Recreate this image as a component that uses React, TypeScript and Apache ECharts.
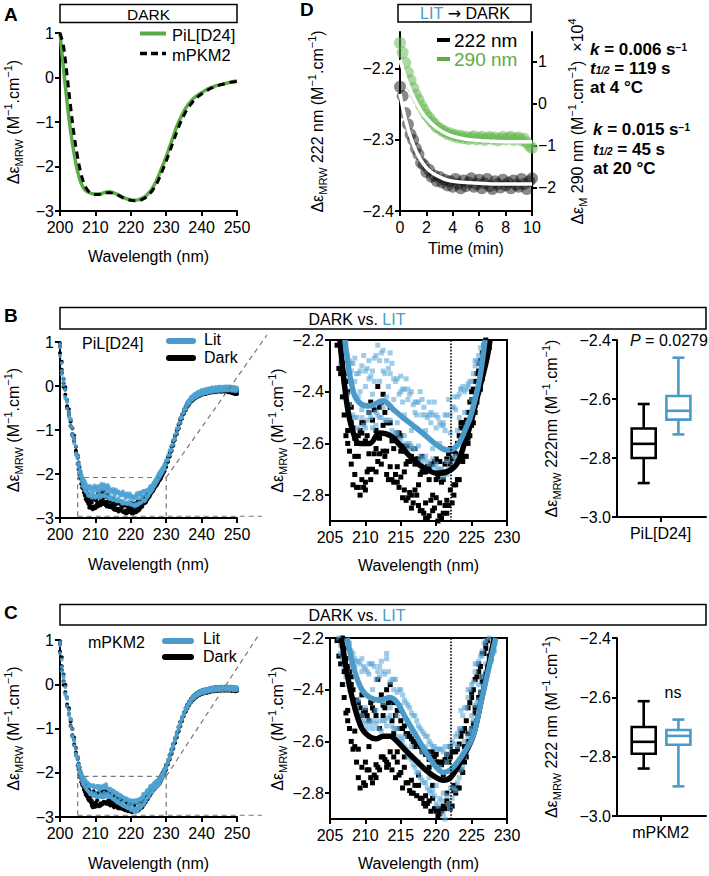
import React, { useEffect, useRef } from 'react';
import * as echarts from 'echarts';

const FONT = '"Liberation Sans", Arial, Helvetica, sans-serif';
const INK = '#000000';
const GREEN = '#5bab46';
const BLUE = '#4a9bc9';

// ---------------- Panel A ----------------
const A_WAVELENGTH = [200, 201, 202, 203, 204, 205, 206, 207, 208, 209, 210, 211, 212, 213, 214, 215, 216, 217, 218, 219, 220, 221, 222, 223, 224, 225, 226, 227, 228, 229, 230, 231, 232, 233, 234, 235, 236, 237, 238, 239, 240, 241, 242, 243, 244, 245, 246, 247, 248, 249, 250];
const A_PIL_D24 = [1.0, 0.2, -0.55, -1.2, -1.72, -2.12, -2.38, -2.52, -2.58, -2.61,
  -2.62, -2.62, -2.6, -2.58, -2.57, -2.59, -2.62, -2.66, -2.7, -2.73,
  -2.75, -2.76, -2.75, -2.72, -2.68, -2.6, -2.5, -2.36, -2.18, -1.98,
  -1.78, -1.55, -1.33, -1.1, -0.92, -0.76, -0.63, -0.53, -0.45, -0.39,
  -0.34, -0.29, -0.25, -0.22, -0.19, -0.17, -0.15, -0.13, -0.11, -0.09, -0.08];
const A_MPKM2 = [1.0, 0.7, 0.05, -0.65, -1.3, -1.8, -2.18, -2.42, -2.55, -2.61,
  -2.63, -2.63, -2.61, -2.59, -2.59, -2.6, -2.63, -2.67, -2.71, -2.74,
  -2.76, -2.77, -2.77, -2.75, -2.71, -2.64, -2.55, -2.43, -2.27, -2.08,
  -1.88, -1.66, -1.44, -1.22, -1.02, -0.85, -0.71, -0.6, -0.5, -0.43,
  -0.37, -0.32, -0.27, -0.23, -0.2, -0.17, -0.15, -0.13, -0.11, -0.1, -0.09];

// ---------------- Panel D ----------------
const D_TIME = [0, 0.2, 0.4, 0.6, 0.8, 1, 1.2, 1.4, 1.6, 1.8, 2, 2.2, 2.4, 2.6, 2.8, 3, 3.2, 3.4, 3.6, 3.8, 4, 4.2, 4.4, 4.6, 4.8, 5, 5.2, 5.4, 5.6, 5.8, 6, 6.2, 6.4, 6.6, 6.8, 7, 7.2, 7.4, 7.6, 7.8, 8, 8.2, 8.4, 8.6, 8.8, 9, 9.2, 9.4, 9.6, 9.8, 10];
const D_222_NM = [-2.225, -2.238, -2.262, -2.278, -2.292, -2.3, -2.312, -2.32, -2.332, -2.335,
  -2.345, -2.342, -2.352, -2.35, -2.358, -2.352, -2.36, -2.356, -2.364, -2.358,
  -2.366, -2.355, -2.362, -2.368, -2.357, -2.365, -2.36, -2.354, -2.366, -2.362,
  -2.356, -2.368, -2.361, -2.355, -2.365, -2.369, -2.358, -2.362, -2.367, -2.356,
  -2.364, -2.36, -2.368, -2.357, -2.363, -2.366, -2.355, -2.362, -2.369, -2.358, -2.354];
const D_290_NM = [1.45, 1.22, 0.98, 0.75, 0.56, 0.38, 0.22, 0.1, -0.04, -0.14,
  -0.26, -0.33, -0.42, -0.48, -0.56, -0.58, -0.64, -0.66, -0.72, -0.7,
  -0.76, -0.74, -0.8, -0.76, -0.82, -0.78, -0.84, -0.8, -0.77, -0.85,
  -0.81, -0.78, -0.86, -0.82, -0.79, -0.84, -0.8, -0.87, -0.83, -0.79,
  -0.85, -0.81, -0.78, -0.86, -0.82, -0.8, -0.87, -0.83, -0.92, -1.0, -1.05];
const D_FIT_TIME = [0, 0.25, 0.5, 0.75, 1, 1.25, 1.5, 1.75, 2, 2.5, 3, 3.5, 4, 5, 6, 7, 8, 9, 10];
const D_222_FIT = [-2.235, -2.258, -2.277, -2.293, -2.306, -2.317, -2.326, -2.333, -2.339, -2.347, -2.352, -2.356, -2.358, -2.36, -2.361, -2.362, -2.362, -2.362, -2.362];
const D_290_FIT = [1.05, 0.78, 0.55, 0.35, 0.17, 0.02, -0.12, -0.24, -0.34, -0.5, -0.62, -0.71, -0.77, -0.84, -0.87, -0.89, -0.9, -0.9, -0.9];

// ---------------- Panels B & C: spectra (3 full scans on a 0.5 nm grid) ----------------
const WL = [200, 200.5, 201, 201.5, 202, 202.5, 203, 203.5, 204, 204.5,
  205, 205.5, 206, 206.5, 207, 207.5, 208, 208.5, 209, 209.5,
  210, 210.5, 211, 211.5, 212, 212.5, 213, 213.5, 214, 214.5,
  215, 215.5, 216, 216.5, 217, 217.5, 218, 218.5, 219, 219.5,
  220, 220.5, 221, 221.5, 222, 222.5, 223, 223.5, 224, 224.5,
  225, 225.5, 226, 226.5, 227, 227.5, 228, 228.5, 229, 229.5,
  230, 230.5, 231, 231.5, 232, 232.5, 233, 233.5, 234, 234.5,
  235, 235.5, 236, 236.5, 237, 237.5, 238, 238.5, 239, 239.5,
  240, 240.5, 241, 241.5, 242, 242.5, 243, 243.5, 244, 244.5,
  245, 245.5, 246, 246.5, 247, 247.5, 248, 248.5, 249, 249.5, 250];

const B_DARK_1 = [0.90, 0.37, 0.16, -0.20, -0.32, -0.66, -0.77, -1.09, -1.18, -1.51,
  -1.63, -1.98, -2.08, -2.33, -2.33, -2.55, -2.52, -2.72, -2.57, -2.74,
  -2.59, -2.70, -2.51, -2.62, -2.46, -2.63, -2.52, -2.69, -2.58, -2.75,
  -2.63, -2.78, -2.67, -2.80, -2.68, -2.84, -2.71, -2.83, -2.70, -2.86,
  -2.74, -2.83, -2.71, -2.82, -2.68, -2.76, -2.60, -2.66, -2.54, -2.58,
  -2.43, -2.45, -2.32, -2.33, -2.20, -2.21, -2.07, -2.07, -1.93, -1.92,
  -1.76, -1.70, -1.52, -1.46, -1.27, -1.21, -1.01, -0.96, -0.77, -0.72,
  -0.56, -0.53, -0.41, -0.40, -0.30, -0.31, -0.23, -0.25, -0.18, -0.21,
  -0.14, -0.18, -0.12, -0.16, -0.10, -0.14, -0.08, -0.13, -0.07, -0.12,
  -0.06, -0.11, -0.06, -0.11, -0.06, -0.12, -0.07, -0.14, -0.09, -0.16, -0.11];
const B_DARK_2 = [0.75, 0.55, 0.06, -0.08, -0.46, -0.60, -0.91, -0.96, -1.25, -1.38,
  -1.77, -1.84, -2.22, -2.24, -2.49, -2.40, -2.68, -2.58, -2.77, -2.56,
  -2.75, -2.48, -2.70, -2.55, -2.64, -2.41, -2.63, -2.52, -2.75, -2.56,
  -2.73, -2.63, -2.81, -2.65, -2.78, -2.66, -2.86, -2.71, -2.88, -2.68,
  -2.81, -2.67, -2.87, -2.66, -2.78, -2.63, -2.74, -2.54, -2.65, -2.48,
  -2.53, -2.36, -2.40, -2.25, -2.28, -2.13, -2.15, -2.00, -2.01, -1.84,
  -1.84, -1.62, -1.60, -1.38, -1.35, -1.13, -1.09, -0.88, -0.84, -0.65,
  -0.63, -0.47, -0.47, -0.34, -0.36, -0.25, -0.29, -0.19, -0.24, -0.15,
  -0.20, -0.12, -0.18, -0.10, -0.16, -0.08, -0.14, -0.07, -0.13, -0.06,
  -0.12, -0.05, -0.12, -0.05, -0.12, -0.06, -0.14, -0.07, -0.17, -0.09, -0.18];
const B_DARK_3 = [0.97, 0.30, -0.02, -0.03, -0.50, -0.53, -0.81, -1.12, -1.13, -1.47,
  -1.58, -2.02, -2.03, -2.18, -2.36, -2.60, -2.46, -2.65, -2.65, -2.52,
  -2.78, -2.64, -2.45, -2.71, -2.58, -2.53, -2.72, -2.46, -2.62, -2.69,
  -2.57, -2.71, -2.61, -2.85, -2.62, -2.76, -2.65, -2.89, -2.74, -2.80,
  -2.66, -2.88, -2.74, -2.87, -2.62, -2.80, -2.67, -2.52, -2.60, -2.60,
  -2.40, -2.48, -2.29, -2.35, -2.17, -2.23, -2.04, -2.10, -1.91, -1.94,
  -1.73, -1.72, -1.50, -1.48, -1.25, -1.22, -0.99, -0.97, -0.75, -0.74,
  -0.54, -0.55, -0.39, -0.42, -0.28, -0.33, -0.21, -0.26, -0.16, -0.22,
  -0.12, -0.19, -0.10, -0.17, -0.08, -0.15, -0.06, -0.14, -0.05, -0.13,
  -0.04, -0.13, -0.05, -0.13, -0.05, -0.14, -0.06, -0.16, -0.08, -0.18, -0.12];
const B_LIT_1 = [0.88, 0.34, 0.17, -0.25, -0.37, -0.71, -0.77, -1.09, -1.17, -1.53,
  -1.63, -1.95, -2.00, -2.24, -2.21, -2.41, -2.32, -2.50, -2.33, -2.50,
  -2.32, -2.48, -2.32, -2.48, -2.28, -2.46, -2.28, -2.51, -2.35, -2.56,
  -2.40, -2.57, -2.43, -2.61, -2.44, -2.61, -2.49, -2.65, -2.49, -2.66,
  -2.54, -2.70, -2.53, -2.67, -2.49, -2.65, -2.42, -2.59, -2.40, -2.52,
  -2.36, -2.42, -2.26, -2.28, -2.13, -2.14, -1.99, -2.01, -1.86, -1.86,
  -1.70, -1.67, -1.48, -1.44, -1.24, -1.19, -0.98, -0.94, -0.74, -0.71,
  -0.54, -0.51, -0.38, -0.38, -0.27, -0.29, -0.20, -0.23, -0.15, -0.19,
  -0.11, -0.16, -0.09, -0.14, -0.07, -0.12, -0.05, -0.11, -0.04, -0.10,
  -0.03, -0.09, -0.03, -0.08, -0.02, -0.08, -0.02, -0.09, -0.03, -0.10, -0.05];
const B_LIT_2 = [0.68, 0.52, 0.02, -0.08, -0.51, -0.58, -0.91, -0.95, -1.30, -1.37,
  -1.78, -1.81, -2.13, -2.11, -2.36, -2.26, -2.50, -2.36, -2.54, -2.30,
  -2.54, -2.35, -2.54, -2.26, -2.50, -2.24, -2.51, -2.33, -2.57, -2.35,
  -2.59, -2.39, -2.62, -2.40, -2.62, -2.44, -2.67, -2.49, -2.68, -2.49,
  -2.68, -2.52, -2.73, -2.49, -2.70, -2.42, -2.65, -2.39, -2.60, -2.37,
  -2.49, -2.30, -2.37, -2.19, -2.23, -2.05, -2.09, -1.92, -1.96, -1.77,
  -1.79, -1.58, -1.57, -1.35, -1.33, -1.10, -1.07, -0.85, -0.83, -0.63,
  -0.61, -0.44, -0.45, -0.31, -0.34, -0.22, -0.27, -0.16, -0.22, -0.12,
  -0.18, -0.09, -0.16, -0.07, -0.14, -0.05, -0.12, -0.04, -0.11, -0.03,
  -0.10, -0.02, -0.10, -0.01, -0.09, -0.01, -0.09, -0.02, -0.10, -0.03, -0.10];
const B_LIT_3 = [0.95, 0.26, 0.10, -0.28, -0.31, -0.65, -0.74, -1.14, -1.23, -1.57,
  -1.59, -1.99, -2.04, -2.29, -2.16, -2.32, -2.29, -2.27, -2.42, -2.47,
  -2.38, -2.28, -2.41, -2.53, -2.36, -2.32, -2.42, -2.25, -2.43, -2.52,
  -2.34, -2.49, -2.39, -2.55, -2.48, -2.67, -2.43, -2.55, -2.44, -2.62,
  -2.49, -2.60, -2.52, -2.72, -2.56, -2.46, -2.55, -2.39, -2.48, -2.38,
  -2.43, -2.28, -2.29, -2.29, -2.14, -2.16, -1.97, -2.02, -1.88, -1.88,
  -1.68, -1.69, -1.46, -1.46, -1.22, -1.21, -0.96, -0.96, -0.72, -0.72,
  -0.52, -0.53, -0.36, -0.40, -0.25, -0.31, -0.18, -0.25, -0.13, -0.21,
  -0.09, -0.18, -0.07, -0.16, -0.05, -0.14, -0.03, -0.13, -0.02, -0.12,
  -0.01, -0.11, -0.02, -0.10, -0.01, -0.10, -0.01, -0.11, -0.02, -0.12, -0.04];

const C_DARK_1 = [0.91, 0.41, 0.22, -0.18, -0.30, -0.67, -0.79, -1.15, -1.25, -1.60,
  -1.69, -2.02, -2.05, -2.30, -2.24, -2.48, -2.38, -2.62, -2.45, -2.70,
  -2.48, -2.71, -2.47, -2.69, -2.44, -2.66, -2.40, -2.64, -2.45, -2.68,
  -2.52, -2.70, -2.57, -2.75, -2.61, -2.77, -2.63, -2.81, -2.67, -2.82,
  -2.68, -2.86, -2.68, -2.83, -2.66, -2.79, -2.63, -2.71, -2.55, -2.60,
  -2.43, -2.47, -2.33, -2.37, -2.24, -2.29, -2.16, -2.17, -2.01, -2.01,
  -1.84, -1.81, -1.61, -1.57, -1.36, -1.32, -1.11, -1.06, -0.86, -0.83,
  -0.65, -0.61, -0.47, -0.46, -0.34, -0.35, -0.25, -0.28, -0.19, -0.23,
  -0.15, -0.20, -0.13, -0.18, -0.11, -0.16, -0.09, -0.15, -0.08, -0.14,
  -0.07, -0.13, -0.07, -0.13, -0.07, -0.13, -0.07, -0.14, -0.08, -0.15, -0.10];
const C_DARK_2 = [0.74, 0.61, 0.07, -0.03, -0.46, -0.56, -0.94, -1.01, -1.36, -1.44,
  -1.84, -1.88, -2.21, -2.17, -2.43, -2.31, -2.60, -2.45, -2.74, -2.50,
  -2.77, -2.52, -2.76, -2.50, -2.71, -2.46, -2.68, -2.38, -2.66, -2.48,
  -2.72, -2.54, -2.76, -2.59, -2.77, -2.61, -2.82, -2.65, -2.83, -2.64,
  -2.87, -2.68, -2.85, -2.65, -2.86, -2.64, -2.78, -2.56, -2.68, -2.47,
  -2.55, -2.36, -2.43, -2.26, -2.34, -2.19, -2.25, -2.08, -2.10, -1.92,
  -1.93, -1.72, -1.70, -1.48, -1.45, -1.23, -1.20, -0.97, -0.95, -0.75,
  -0.72, -0.54, -0.54, -0.39, -0.41, -0.28, -0.32, -0.21, -0.26, -0.16,
  -0.22, -0.13, -0.20, -0.11, -0.18, -0.09, -0.16, -0.08, -0.15, -0.07,
  -0.14, -0.06, -0.14, -0.06, -0.14, -0.06, -0.14, -0.07, -0.15, -0.08, -0.15];
const C_DARK_3 = [0.97, 0.32, -0.01, -0.01, -0.49, -0.54, -0.84, -1.17, -1.21, -1.54,
  -1.65, -2.06, -2.02, -2.15, -2.33, -2.52, -2.35, -2.56, -2.63, -2.42,
  -2.68, -2.62, -2.44, -2.74, -2.55, -2.50, -2.70, -2.44, -2.57, -2.64,
  -2.55, -2.66, -2.58, -2.80, -2.62, -2.73, -2.64, -2.85, -2.70, -2.77,
  -2.65, -2.88, -2.73, -2.80, -2.62, -2.77, -2.70, -2.58, -2.62, -2.57,
  -2.41, -2.49, -2.30, -2.35, -2.22, -2.27, -2.14, -2.18, -2.00, -1.99,
  -1.82, -1.80, -1.60, -1.55, -1.35, -1.31, -1.10, -1.05, -0.85, -0.82,
  -0.64, -0.62, -0.46, -0.47, -0.33, -0.36, -0.24, -0.29, -0.18, -0.24,
  -0.14, -0.21, -0.12, -0.19, -0.10, -0.17, -0.08, -0.16, -0.07, -0.15,
  -0.06, -0.14, -0.06, -0.14, -0.06, -0.14, -0.06, -0.15, -0.07, -0.16, -0.09];
const C_LIT_1 = [0.88, 0.39, 0.20, -0.21, -0.33, -0.70, -0.80, -1.16, -1.25, -1.61,
  -1.69, -1.99, -2.01, -2.23, -2.17, -2.38, -2.25, -2.45, -2.29, -2.50,
  -2.32, -2.52, -2.30, -2.53, -2.31, -2.52, -2.28, -2.50, -2.36, -2.55,
  -2.40, -2.62, -2.46, -2.67, -2.50, -2.72, -2.56, -2.76, -2.60, -2.79,
  -2.63, -2.82, -2.64, -2.81, -2.62, -2.78, -2.57, -2.71, -2.47, -2.58,
  -2.38, -2.46, -2.29, -2.35, -2.21, -2.28, -2.16, -2.17, -2.01, -2.00,
  -1.82, -1.79, -1.59, -1.54, -1.34, -1.29, -1.08, -1.04, -0.84, -0.81,
  -0.63, -0.60, -0.46, -0.45, -0.33, -0.34, -0.24, -0.27, -0.18, -0.22,
  -0.14, -0.19, -0.12, -0.17, -0.10, -0.15, -0.08, -0.14, -0.07, -0.13,
  -0.06, -0.12, -0.06, -0.12, -0.06, -0.12, -0.06, -0.12, -0.07, -0.13, -0.07];
const C_LIT_2 = [0.70, 0.56, 0.05, -0.06, -0.49, -0.58, -0.95, -1.02, -1.39, -1.46,
  -1.84, -1.86, -2.14, -2.10, -2.31, -2.22, -2.42, -2.28, -2.49, -2.33,
  -2.53, -2.34, -2.55, -2.36, -2.52, -2.33, -2.54, -2.37, -2.55, -2.41,
  -2.59, -2.44, -2.66, -2.49, -2.70, -2.54, -2.75, -2.58, -2.79, -2.62,
  -2.84, -2.63, -2.80, -2.65, -2.86, -2.61, -2.76, -2.55, -2.66, -2.43,
  -2.55, -2.33, -2.44, -2.25, -2.33, -2.19, -2.26, -2.08, -2.10, -1.91,
  -1.91, -1.70, -1.68, -1.45, -1.43, -1.20, -1.17, -0.95, -0.93, -0.73,
  -0.70, -0.53, -0.53, -0.38, -0.40, -0.27, -0.31, -0.20, -0.25, -0.15,
  -0.21, -0.12, -0.19, -0.10, -0.17, -0.08, -0.15, -0.07, -0.14, -0.06,
  -0.13, -0.05, -0.13, -0.05, -0.13, -0.05, -0.13, -0.05, -0.14, -0.06, -0.13];
const C_LIT_3 = [0.95, 0.30, 0.14, -0.25, -0.29, -0.66, -0.78, -1.19, -1.29, -1.57,
  -1.64, -2.01, -2.05, -2.26, -2.14, -2.33, -2.30, -2.31, -2.44, -2.28,
  -2.47, -2.30, -2.40, -2.48, -2.35, -2.45, -2.26, -2.47, -2.40, -2.50,
  -2.46, -2.58, -2.52, -2.62, -2.57, -2.68, -2.64, -2.62, -2.74, -2.68,
  -2.77, -2.70, -2.88, -2.68, -2.78, -2.70, -2.62, -2.48, -2.60, -2.40,
  -2.50, -2.30, -2.38, -2.27, -2.30, -2.20, -2.22, -2.10, -2.08, -1.94,
  -1.88, -1.73, -1.64, -1.50, -1.38, -1.25, -1.13, -0.99, -0.88, -0.77,
  -0.67, -0.56, -0.49, -0.42, -0.36, -0.31, -0.26, -0.24, -0.20, -0.19,
  -0.16, -0.16, -0.14, -0.14, -0.12, -0.12, -0.10, -0.11, -0.09, -0.10,
  -0.08, -0.09, -0.08, -0.09, -0.08, -0.09, -0.08, -0.09, -0.09, -0.10, -0.09];

// two extra scans across the 205–230 nm window (interleaved 0.25 nm offset grid)
const WL_ZOOM = [205.25, 205.75, 206.25, 206.75, 207.25, 207.75, 208.25, 208.75, 209.25, 209.75,
  210.25, 210.75, 211.25, 211.75, 212.25, 212.75, 213.25, 213.75, 214.25, 214.75,
  215.25, 215.75, 216.25, 216.75, 217.25, 217.75, 218.25, 218.75, 219.25, 219.75,
  220.25, 220.75, 221.25, 221.75, 222.25, 222.75, 223.25, 223.75, 224.25, 224.75,
  225.25, 225.75, 226.25, 226.75, 227.25, 227.75, 228.25, 228.75, 229.25];
const B_DARK_4 = [-1.74, -2.10, -2.14, -2.42, -2.36, -2.63, -2.54, -2.77, -2.55, -2.77,
  -2.57, -2.74, -2.47, -2.67, -2.44, -2.65, -2.52, -2.74, -2.58, -2.77,
  -2.61, -2.82, -2.67, -2.83, -2.66, -2.86, -2.71, -2.89, -2.68, -2.85,
  -2.73, -2.89, -2.68, -2.84, -2.66, -2.76, -2.57, -2.67, -2.51, -2.57,
  -2.39, -2.44, -2.28, -2.31, -2.16, -2.19, -2.03, -2.05, -1.88];
const B_DARK_5 = [-1.89, -1.95, -2.31, -2.29, -2.57, -2.45, -2.76, -2.60, -2.80, -2.52,
  -2.71, -2.44, -2.64, -2.38, -2.68, -2.48, -2.74, -2.59, -2.72, -2.56,
  -2.81, -2.68, -2.79, -2.62, -2.80, -2.72, -2.87, -2.69, -2.82, -2.67,
  -2.90, -2.75, -2.84, -2.64, -2.83, -2.64, -2.74, -2.52, -2.65, -2.44,
  -2.52, -2.33, -2.39, -2.22, -2.26, -2.10, -2.13, -1.96, -1.97];
const B_LIT_4 = [-1.74, -2.05, -2.06, -2.30, -2.21, -2.45, -2.29, -2.50, -2.32, -2.53,
  -2.31, -2.50, -2.27, -2.49, -2.25, -2.51, -2.31, -2.55, -2.36, -2.58,
  -2.39, -2.60, -2.41, -2.62, -2.44, -2.65, -2.46, -2.67, -2.48, -2.69,
  -2.50, -2.70, -2.49, -2.70, -2.46, -2.66, -2.41, -2.62, -2.39, -2.52,
  -2.33, -2.40, -2.23, -2.26, -2.10, -2.12, -1.96, -1.98, -1.83];
const B_LIT_5 = [-1.87, -1.92, -2.19, -2.15, -2.39, -2.28, -2.49, -2.33, -2.40, -2.26,
  -2.51, -2.34, -2.36, -2.22, -2.50, -2.33, -2.38, -2.29, -2.56, -2.41,
  -2.44, -2.35, -2.60, -2.45, -2.49, -2.40, -2.66, -2.50, -2.52, -2.44,
  -2.70, -2.53, -2.55, -2.43, -2.68, -2.47, -2.50, -2.38, -2.58, -2.36,
  -2.45, -2.28, -2.34, -2.17, -2.19, -2.03, -2.06, -1.90, -1.91];
const C_DARK_4 = [-1.79, -2.11, -2.11, -2.38, -2.28, -2.55, -2.40, -2.68, -2.47, -2.76,
  -2.50, -2.74, -2.48, -2.70, -2.42, -2.67, -2.45, -2.71, -2.50, -2.73,
  -2.55, -2.76, -2.58, -2.80, -2.60, -2.82, -2.63, -2.84, -2.66, -2.86,
  -2.68, -2.87, -2.67, -2.84, -2.64, -2.80, -2.61, -2.72, -2.52, -2.60,
  -2.40, -2.47, -2.31, -2.36, -2.21, -2.28, -2.13, -2.14, -1.97];
const C_DARK_5 = [-1.92, -1.97, -2.27, -2.20, -2.49, -2.33, -2.63, -2.44, -2.78, -2.49,
  -2.71, -2.45, -2.73, -2.36, -2.66, -2.47, -2.69, -2.52, -2.74, -2.55,
  -2.78, -2.57, -2.79, -2.60, -2.81, -2.62, -2.84, -2.64, -2.87, -2.66,
  -2.89, -2.69, -2.86, -2.68, -2.85, -2.64, -2.78, -2.56, -2.66, -2.45,
  -2.53, -2.35, -2.41, -2.26, -2.31, -2.18, -2.22, -2.04, -2.06];
const C_LIT_4 = [-1.80, -2.08, -2.06, -2.28, -2.18, -2.40, -2.26, -2.47, -2.30, -2.52,
  -2.33, -2.53, -2.31, -2.55, -2.29, -2.52, -2.33, -2.54, -2.36, -2.58,
  -2.42, -2.63, -2.47, -2.69, -2.52, -2.74, -2.57, -2.78, -2.61, -2.81,
  -2.63, -2.83, -2.62, -2.84, -2.60, -2.79, -2.55, -2.70, -2.47, -2.56,
  -2.37, -2.45, -2.27, -2.35, -2.18, -2.29, -2.11, -2.15, -1.96];
const C_LIT_5 = [-1.91, -1.95, -2.20, -2.13, -2.35, -2.22, -2.45, -2.29, -2.52, -2.31,
  -2.55, -2.30, -2.52, -2.33, -2.56, -2.34, -2.51, -2.36, -2.55, -2.40,
  -2.60, -2.45, -2.66, -2.50, -2.72, -2.55, -2.76, -2.58, -2.80, -2.62,
  -2.85, -2.63, -2.90, -2.62, -2.82, -2.58, -2.74, -2.50, -2.64, -2.40,
  -2.52, -2.30, -2.41, -2.22, -2.33, -2.17, -2.25, -2.03, -2.08];

// fitted curves shown in the zoomed panels
const B_LIT_FIT_X = [207.1, 208.3, 209.5, 210.6, 212.5, 214, 215.3, 216.7, 218.1, 219.8, 221.5, 222.5, 223.4, 224.2, 224.8, 225.5, 226.2, 226.9];
const B_LIT_FIT_Y = [-2.2, -2.4, -2.45, -2.455, -2.435, -2.47, -2.5, -2.53, -2.56, -2.6, -2.625, -2.62, -2.59, -2.54, -2.5, -2.43, -2.34, -2.2];
const B_DARK_FIT_X = [206.4, 207.4, 208.3, 209.2, 210.6, 212, 213.5, 215, 216.3, 218, 220.1, 221.5, 222.9, 224, 224.8, 226, 227.1, 227.6];
const B_DARK_FIT_Y = [-2.2, -2.45, -2.56, -2.6, -2.6, -2.56, -2.57, -2.61, -2.65, -2.69, -2.715, -2.71, -2.68, -2.6, -2.53, -2.4, -2.28, -2.2];
const C_LIT_FIT_X = [207.4, 208.5, 209.5, 210.6, 212, 213.5, 214.5, 215.5, 217, 218.5, 220, 221, 222, 223, 224, 225.2, 226.3, 227.4, 228.4];
const C_LIT_FIT_Y = [-2.2, -2.33, -2.4, -2.43, -2.44, -2.43, -2.45, -2.5, -2.57, -2.64, -2.7, -2.72, -2.71, -2.68, -2.64, -2.58, -2.45, -2.32, -2.2];
const C_DARK_FIT_X = [206.6, 207.5, 208.5, 209.5, 210.5, 211.5, 212.5, 213.5, 214.5, 215.5, 217, 218.5, 220, 221, 222, 223, 224, 225.2, 226.3, 227.3, 228.2];
const C_DARK_FIT_Y = [-2.2, -2.35, -2.47, -2.55, -2.58, -2.59, -2.58, -2.58, -2.6, -2.63, -2.67, -2.71, -2.74, -2.75, -2.74, -2.7, -2.65, -2.58, -2.45, -2.32, -2.2];

// box plots at 222 nm: [min, q1, median, q3, max]
const B_BOX_DARK = [-2.885, -2.8, -2.752, -2.7, -2.617];
const B_BOX_LIT = [-2.72, -2.67, -2.64, -2.59, -2.46];
const C_BOX_DARK = [-2.84, -2.79, -2.75, -2.7, -2.613];
const C_BOX_LIT = [-2.9, -2.76, -2.73, -2.71, -2.675];
const B_CATEGORY = 'PiL[D24]';
const C_CATEGORY = 'mPKM2';

// layout (not data)
const BOX_POS_DARK = 0.3;
const BOX_POS_LIT = 0.69;
const BOX_POS_CAT = 0.49;

const MINUS = (s: string) => s.replace('-', '\u2212');
const fmtInt = (v: number) => MINUS(String(Math.round(v * 1000) / 1000));
const fmt1 = (v: number) => MINUS(v.toFixed(1));

const RICH: any = {
  t: { fontSize: 16, fontFamily: FONT, color: INK, lineHeight: 22 },
  s: { fontSize: 11, fontFamily: FONT, color: INK, lineHeight: 12, verticalAlign: 'bottom' },
  p: { fontSize: 11, fontFamily: FONT, color: INK, lineHeight: 12, verticalAlign: 'top' },
};
const UNIT = '{t| (M}{p|\u22121}{t|.cm}{p|\u22121}{t|)}';
const Y_MRW = '{t|\u0394\u03b5}{s|MRW}' + UNIT;
const Y_D_LEFT = '{t|\u0394\u03b5}{s|MRW}{t| 222 nm}' + UNIT;
const Y_D_RIGHT = '{t|\u0394\u03b5}{s|M}{t| 290 nm}' + UNIT + '{t|  \u00d710}{p|4}';
const Y_B_BOX = '{t|\u0394\u03b5}{s|MRW}{t| 222nm}' + UNIT;
const Y_C_BOX = '{t|\u0394\u03b5}{s|MRW}{t| 222 nm}' + UNIT;

function axis(o: any) {
  const isX = o.kind === 'x';
  return {
    type: 'value',
    gridIndex: o.grid,
    min: o.min,
    max: o.max,
    interval: o.interval,
    position: o.position,
    name: o.name,
    nameLocation: 'middle',
    nameGap: o.nameGap,
    nameRotate: isX ? 0 : 90,
    nameTextStyle: { color: INK, fontSize: 16, fontFamily: FONT, rich: RICH },
    axisLine: { show: true, onZero: false, lineStyle: { color: INK, width: 2 } },
    axisTick: Object.assign({ show: true, length: 5, lineStyle: { color: INK, width: 2 } }, o.ticks ? { customValues: o.ticks } : {}),
    axisLabel: Object.assign(
      { show: true, color: INK, fontSize: 16, fontFamily: FONT, margin: o.margin ?? (isX ? 8 : 6), formatter: o.formatter || fmtInt },
      o.ticks ? { customValues: o.ticks } : {}
    ),
    splitLine: { show: false },
  };
}

const pairs = (xs: number[], ys: number[]) => ys.map((y, i) => [xs[i], y]);
const scans = (...arrs: number[][]) => arrs.flatMap((a) => pairs(WL, a));
const zoomScans = (...arrs: number[][]) => arrs.flatMap((a) => pairs(WL_ZOOM, a));

function boxSeries(xi: number, yi: number, pos: number, stats: number[], color: string) {
  return {
    type: 'custom',
    coordinateSystem: 'cartesian2d',
    xAxisIndex: xi,
    yAxisIndex: yi,
    silent: true,
    encode: { x: 0, y: [1, 2, 3, 4, 5] },
    data: [[pos, ...stats]],
    renderItem: (params: any, api: any) => {
      const x = api.value(0);
      const c = (i: number) => api.coord([x, api.value(i)]);
      const cx = c(1)[0];
      const yMin = c(1)[1], yQ1 = c(2)[1], yMed = c(3)[1], yQ3 = c(4)[1], yMax = c(5)[1];
      const w = 24, cap = 12;
      const st = { stroke: color, lineWidth: 2.6, fill: null };
      return {
        type: 'group',
        children: [
          { type: 'line', shape: { x1: cx, y1: yMin, x2: cx, y2: yQ1 }, style: st },
          { type: 'line', shape: { x1: cx, y1: yQ3, x2: cx, y2: yMax }, style: st },
          { type: 'line', shape: { x1: cx - cap / 2, y1: yMin, x2: cx + cap / 2, y2: yMin }, style: st },
          { type: 'line', shape: { x1: cx - cap / 2, y1: yMax, x2: cx + cap / 2, y2: yMax }, style: st },
          { type: 'rect', shape: { x: cx - w / 2, y: yQ3, width: w, height: yQ1 - yQ3 }, style: { stroke: color, lineWidth: 2.6, fill: '#fff' } },
          { type: 'line', shape: { x1: cx - w / 2, y1: yMed, x2: cx + w / 2, y2: yMed }, style: st },
        ],
      };
    },
  };
}

const dottedAt222 = {
  symbol: 'none',
  silent: true,
  label: { show: false },
  lineStyle: { type: 'dotted', color: INK, width: 1.6 },
  data: [{ xAxis: 222 }],
};

function txt(x: number, y: number, text: string, extra: any = {}) {
  return {
    type: 'text', x, y, z: 100,
    style: Object.assign({ text, fill: INK, fontSize: 16, fontFamily: FONT, align: 'left', verticalAlign: 'middle' }, extra),
  };
}
function seg(x1: number, y1: number, x2: number, y2: number, style: any) {
  return { type: 'line', z: 100, shape: { x1, y1, x2, y2 }, style: Object.assign({ stroke: INK, lineWidth: 2 }, style) };
}
function frameRect(x: number, y: number, w: number, h: number) {
  return { type: 'rect', z: 90, shape: { x, y, width: w, height: h }, style: { fill: '#fff', stroke: INK, lineWidth: 1.5 } };
}

const richG = (size: number, bold = false, lh = 0) => {
  const L = lh ? { lineHeight: lh } : {};
  const small = Math.round(size * 0.6);
  return {
    k: Object.assign({ fill: INK, color: INK, fontSize: size, fontFamily: FONT, fontWeight: bold ? 'bold' : 'normal' }, L),
    b: Object.assign({ fill: BLUE, color: BLUE, fontSize: size, fontFamily: FONT }, L),
    ar: Object.assign({ fill: INK, color: INK, fontSize: size, fontFamily: '"DejaVu Sans", sans-serif' }, L),
    i: Object.assign({ fill: INK, color: INK, fontSize: size, fontFamily: FONT, fontWeight: 'bold', fontStyle: 'italic' }, L),
    it: Object.assign({ fill: INK, color: INK, fontSize: size, fontFamily: FONT, fontStyle: 'italic' }, L),
    sub: { fill: INK, color: INK, fontSize: small, fontFamily: FONT, fontWeight: 'bold', fontStyle: 'italic', verticalAlign: 'bottom', lineHeight: 8 },
    sup: { fill: INK, color: INK, fontSize: small, fontFamily: FONT, fontWeight: bold ? 'bold' : 'normal', verticalAlign: 'top', lineHeight: 8 },
  };
};

function baseGraphics() {
  const g: any[] = [];
  const letter = (x: number, y: number, s: string) => txt(x, y, s, { fontSize: 19, fontWeight: 'bold' });
  // Panel A
  g.push(letter(4, 14, 'A'));
  g.push(frameRect(60, 4.5, 177, 18));
  g.push(txt(148.5, 14, 'DARK', { align: 'center', fontSize: 15.5 }));
  g.push(seg(140, 33.5, 166, 33.5, { stroke: GREEN, lineWidth: 4 }));
  g.push(txt(172, 35, 'PiL[D24]', { fontSize: 16.5 }));
  g.push(seg(140, 53.5, 166, 53.5, { stroke: INK, lineWidth: 3.5, lineDash: [7, 4] }));
  g.push(txt(172, 55, 'mPKM2', { fontSize: 16.5 }));
  // Panel D
  g.push(letter(300, 9, 'D'));
  g.push(frameRect(398, 4.5, 133, 17.5));
  g.push({ type: 'text', x: 465, y: 13.5, z: 100, style: { text: '{b|LIT}{k| }{ar|\u2192}{k| DARK}', rich: richG(16), align: 'center', verticalAlign: 'middle' } });
  g.push(seg(437, 40, 450, 40, { stroke: INK, lineWidth: 4 }));
  g.push(txt(454, 40, '222 nm', { fontSize: 19 }));
  g.push(seg(437, 59, 450, 59, { stroke: GREEN, lineWidth: 4 }));
  g.push(txt(454, 59, '290 nm', { fontSize: 19, fill: GREEN }));
  const rk = richG(17, true, 14);
  const kt = (x: number, y: number, s: string) => ({ type: 'text', x, y, z: 100, style: { text: s, rich: rk, verticalAlign: 'middle' } });
  g.push(kt(590, 49, '{i|k}{k| = 0.006 s}{sup|\u22121}'));
  g.push(kt(590, 68, '{i|t}{sub|1/2}{k| = 119 s}'));
  g.push(kt(590, 87, '{k|at 4 \u00b0C}'));
  g.push(kt(593, 129, '{i|k}{k| = 0.015 s}{sup|\u22121}'));
  g.push(kt(593, 149, '{i|t}{sub|1/2}{k| = 45 s}'));
  g.push(kt(593, 168, '{k|at 20 \u00b0C}'));
  // Panel B
  g.push(letter(4, 315, 'B'));
  g.push(frameRect(60, 307.5, 646, 21.5));
  g.push({ type: 'text', x: 357, y: 319, z: 100, style: { text: '{k|DARK vs. }{b|LIT}', rich: richG(16), align: 'center', verticalAlign: 'middle' } });
  g.push(txt(82, 343, 'PiL[D24]'));
  g.push(seg(169, 341, 193, 341, { stroke: BLUE, lineWidth: 6, lineCap: 'round' }));
  g.push(txt(204, 339, 'Lit', { lineHeight: 16 }));
  g.push(seg(169, 358, 193, 358, { stroke: INK, lineWidth: 6, lineCap: 'round' }));
  g.push(txt(204, 357, 'Dark', { lineHeight: 16 }));
  g.push({ type: 'text', x: 630, y: 340, z: 100, style: { text: '{it|P}{k| = 0.0279}', rich: richG(16), verticalAlign: 'middle' } });
  // Panel C
  g.push(letter(4, 612, 'C'));
  g.push(frameRect(60, 604.5, 646, 20.5));
  g.push({ type: 'text', x: 357, y: 615, z: 100, style: { text: '{k|DARK vs. }{b|LIT}', rich: richG(16), align: 'center', verticalAlign: 'middle' } });
  g.push(txt(88, 642, 'mPKM2'));
  g.push(seg(165, 641, 191, 641, { stroke: BLUE, lineWidth: 6, lineCap: 'round' }));
  g.push(txt(203, 638, 'Lit', { lineHeight: 16 }));
  g.push(seg(165, 657, 191, 657, { stroke: INK, lineWidth: 6, lineCap: 'round' }));
  g.push(txt(203, 656, 'Dark', { lineHeight: 16 }));
  g.push(txt(673, 692, 'ns', { align: 'center' }));
  return g;
}

function buildOption() {
  const grid = [
    { left: 60, top: 33, width: 177, height: 178 },   // 0 A
    { left: 400, top: 32, width: 132, height: 179 },  // 1 D
    { left: 60, top: 342, width: 177, height: 176 },  // 2 B left
    { left: 330, top: 340, width: 177, height: 181, show: true, borderColor: INK, borderWidth: 2 }, // 3 B mid
    { left: 617, top: 340, width: 89, height: 177 },  // 4 B box
    { left: 60, top: 640, width: 177, height: 177 },  // 5 C left
    { left: 330, top: 638, width: 177, height: 181, show: true, borderColor: INK, borderWidth: 2 }, // 6 C mid
    { left: 617, top: 638, width: 89, height: 178 },  // 7 C box
  ].map((g) => Object.assign({ outerBoundsMode: 'none', containLabel: false }, g));

  const xAxis = [
    axis({ kind: 'x', grid: 0, min: 200, max: 250, interval: 10, name: 'Wavelength (nm)', nameGap: 37 }),
    axis({ kind: 'x', grid: 1, min: 0, max: 10, interval: 2, name: 'Time (min)', nameGap: 29 }),
    axis({ kind: 'x', grid: 2, min: 200, max: 250, interval: 10, name: 'Wavelength (nm)', nameGap: 38 }),
    axis({ kind: 'x', grid: 3, min: 205, max: 230, interval: 5, name: 'Wavelength (nm)', nameGap: 36 }),
    axis({ kind: 'x', grid: 4, min: 0, max: 1, ticks: [BOX_POS_CAT], formatter: () => B_CATEGORY }),
    axis({ kind: 'x', grid: 5, min: 200, max: 250, interval: 10, name: 'Wavelength (nm)', nameGap: 38 }),
    axis({ kind: 'x', grid: 6, min: 205, max: 230, interval: 5, name: 'Wavelength (nm)', nameGap: 36 }),
    axis({ kind: 'x', grid: 7, min: 0, max: 1, ticks: [BOX_POS_CAT], formatter: () => C_CATEGORY }),
  ];
  const yAxis = [
    axis({ kind: 'y', grid: 0, min: -3, max: 1, interval: 1, name: Y_MRW, nameGap: 36 }),
    axis({ kind: 'y', grid: 1, min: -2.4, max: -2.148, ticks: [-2.4, -2.3, -2.2], formatter: fmt1, name: Y_D_LEFT, nameGap: 72 }),
    axis({ kind: 'y', grid: 1, position: 'right', min: -2.55, max: 1.71, ticks: [-2, -1, 0, 1], name: Y_D_RIGHT, nameGap: 34 }),
    axis({ kind: 'y', grid: 2, min: -3, max: 1, interval: 1, name: Y_MRW, nameGap: 36 }),
    axis({ kind: 'y', grid: 3, min: -2.9, max: -2.2, ticks: [-2.8, -2.6, -2.4, -2.2], formatter: fmt1, name: Y_MRW, nameGap: 42 }),
    axis({ kind: 'y', grid: 4, min: -3, max: -2.4, ticks: [-3, -2.8, -2.6, -2.4], formatter: fmt1, name: Y_B_BOX, nameGap: 55 }),
    axis({ kind: 'y', grid: 5, min: -3, max: 1, interval: 1, name: Y_MRW, nameGap: 36 }),
    axis({ kind: 'y', grid: 6, min: -2.9, max: -2.2, ticks: [-2.8, -2.6, -2.4, -2.2], formatter: fmt1, name: Y_MRW, nameGap: 42 }),
    axis({ kind: 'y', grid: 7, min: -3, max: -2.4, ticks: [-3, -2.8, -2.6, -2.4], formatter: fmt1, name: Y_C_BOX, nameGap: 55 }),
  ];

  const lineSeries = (xi: number, yi: number, data: any, color: string, width: number, extra: any = {}) =>
    Object.assign({ type: 'line', xAxisIndex: xi, yAxisIndex: yi, data, showSymbol: false, symbol: 'none', silent: true, smooth: 0.35, lineStyle: { color, width } }, extra);
  const scatter = (xi: number, yi: number, data: any, symbol: string, size: number, color: string, opacity = 1) =>
    ({ type: 'scatter', xAxisIndex: xi, yAxisIndex: yi, data, symbol, symbolSize: size, silent: true, itemStyle: { color, opacity } });

  const bDark = scans(B_DARK_1, B_DARK_2, B_DARK_3).concat(zoomScans(B_DARK_4, B_DARK_5));
  const bLit = scans(B_LIT_1, B_LIT_2, B_LIT_3).concat(zoomScans(B_LIT_4, B_LIT_5));
  const cDark = scans(C_DARK_1, C_DARK_2, C_DARK_3).concat(zoomScans(C_DARK_4, C_DARK_5));
  const cLit = scans(C_LIT_1, C_LIT_2, C_LIT_3).concat(zoomScans(C_LIT_4, C_LIT_5));

  const series: any[] = [
    // A
    lineSeries(0, 0, pairs(A_WAVELENGTH, A_PIL_D24), GREEN, 3.5),
    lineSeries(0, 0, pairs(A_WAVELENGTH, A_MPKM2), INK, 3, { lineStyle: { color: INK, width: 3, type: [7, 5] } }),
    // D
    scatter(1, 1, pairs(D_TIME, D_222_NM), 'circle', 12, 'rgba(20,20,20,0.5)'),
    lineSeries(1, 1, pairs(D_FIT_TIME, D_222_FIT), '#ffffff', 3.5),
    scatter(1, 2, pairs(D_TIME, D_290_NM), 'circle', 12, 'rgba(105,185,85,0.55)'),
    lineSeries(1, 2, pairs(D_FIT_TIME, D_290_FIT), '#ffffff', 3.5),
    // B left
    scatter(2, 3, bDark, 'circle', 4, INK),
    scatter(2, 3, bLit, 'circle', 4, '#4fa3d4', 0.85),
    // B middle
    scatter(3, 4, bDark, 'rect', 5, INK),
    scatter(3, 4, bLit, 'rect', 5, '#5ba8d8', 0.6),
    lineSeries(3, 4, pairs(B_DARK_FIT_X, B_DARK_FIT_Y), INK, 5.5, { markLine: dottedAt222 }),
    lineSeries(3, 4, pairs(B_LIT_FIT_X, B_LIT_FIT_Y), BLUE, 5.5),
    // B box
    boxSeries(4, 5, BOX_POS_DARK, B_BOX_DARK, INK),
    boxSeries(4, 5, BOX_POS_LIT, B_BOX_LIT, BLUE),
    // C left
    scatter(5, 6, cDark, 'circle', 4, INK),
    scatter(5, 6, cLit, 'circle', 4, '#4fa3d4', 0.85),
    // C middle
    scatter(6, 7, cDark, 'rect', 5, INK),
    scatter(6, 7, cLit, 'rect', 5, '#5ba8d8', 0.6),
    lineSeries(6, 7, pairs(C_DARK_FIT_X, C_DARK_FIT_Y), INK, 5.5, { markLine: dottedAt222 }),
    lineSeries(6, 7, pairs(C_LIT_FIT_X, C_LIT_FIT_Y), BLUE, 5.5),
    // C box
    boxSeries(7, 8, BOX_POS_DARK, C_BOX_DARK, INK),
    boxSeries(7, 8, BOX_POS_LIT, C_BOX_LIT, BLUE),
  ];

  return {
    animation: false,
    backgroundColor: '#ffffff',
    textStyle: { fontFamily: FONT },
    grid,
    xAxis,
    yAxis,
    series,
    graphic: baseGraphics(),
  };
}

export default function App() {
  const ref = useRef<HTMLDivElement>(null);
  useEffect(() => {
    if (!ref.current) return;
    const chart = echarts.init(ref.current, null, { renderer: 'svg' });
    chart.setOption(buildOption() as any);
    // dashed zoom guides on the full-range spectra, positioned from data coordinates
    const dash = { stroke: '#777', lineWidth: 1.2, lineDash: [5, 4], fill: null };
    const guides = (gi: number, diagEnd: number[], bottomEndX: number) => {
      const p = (x: number, y: number) => chart.convertToPixel({ gridIndex: gi } as any, [x, y]) as number[];
      const tl = p(205, -2.08), tr = p(230, -2.08), bl = p(205, -2.96), br = p(230, -2.96);
      return [
        { type: 'polyline', z: 50, shape: { points: [bl, tl, tr, br] }, style: dash },
        { type: 'line', z: 50, shape: { x1: bl[0], y1: bl[1], x2: bottomEndX, y2: bl[1] }, style: dash },
        { type: 'line', z: 50, shape: { x1: tr[0], y1: tr[1], x2: diagEnd[0], y2: diagEnd[1] }, style: dash },
      ];
    };
    chart.setOption({ graphic: [...baseGraphics(), ...guides(2, [267, 335], 262), ...guides(5, [258, 636], 262)] } as any);
    return () => chart.dispose();
  }, []);
  return <div ref={ref} style={{ position: 'absolute', left: 0, top: 0, width: 709, height: 876, background: '#fff' }} />;
}
